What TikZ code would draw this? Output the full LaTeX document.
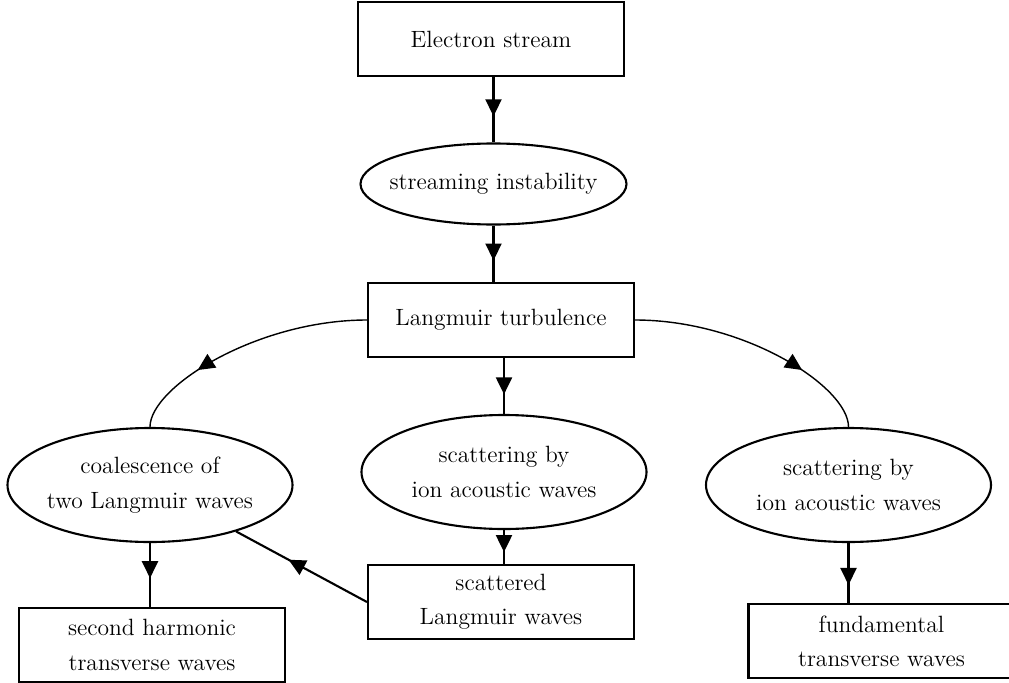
\documentclass[tikz,border=0pt]{standalone}
\usetikzlibrary{shapes.geometric,decorations.markings,arrows.meta}
\begin{document}
\begin{tikzpicture}[every node/.style={font=\fontsize{13.4}{19.5}\selectfont, align=center, line width=1.2pt},
  box/.style={draw, rectangle, minimum width=5.32cm, minimum height=1.48cm},
  oval/.style={draw, ellipse, inner xsep=-0.15cm, inner ysep=0pt, minimum width=5.7cm, minimum height=2.28cm},
  flow/.style={line width=1.2pt, postaction={decorate},
    decoration={markings, mark=at position #1 with {\arrow{Triangle[length=3.4mm,width=3.2mm]}}}},
  flow/.default=0.6,
  sidearc/.style={flow=0.7, line width=0.8pt}]
\useasboundingbox (0,0) rectangle (20.18,13.64);

\foreach \n/\x/\y/\t in {
estream/9.82/12.86/{Electron stream},
turb/10.02/7.24/{Langmuir turbulence},
scatlang/10.02/1.6/{scattered\\Langmuir waves},
second/3.04/0.74/{second harmonic\\transverse waves},
fund/17.63/0.82/{fundamental\\transverse waves}}
\node[box] (\n) at (\x,\y) {\t};

\node[oval, inner xsep=-0.3cm, minimum width=5.32cm, minimum height=1.62cm] (instab) at (9.87,9.96) {streaming instability};
\foreach \n/\x/\y/\t in {
coal/3.0/3.94/{coalescence of\\two Langmuir waves},
scatmid/10.08/4.2/{scattering by\\ion acoustic waves},
scatright/16.97/3.94/{scattering by\\ion acoustic waves}}
\node[oval] (\n) at (\x,\y) {\t};

\draw[flow] (instab.north |- estream.south) -- (instab);
\draw[flow=0.62] (instab.south) -- (instab.south |- turb.north);
\foreach \a/\b in {turb/scatmid, scatmid/scatlang}
\draw[flow=0.65] (scatmid.north |- \a.south) -- (scatmid.north |- \b.north);
\draw[flow=0.55] (coal.south) -- (coal.south |- second.north);
\draw[flow=0.7] (scatright.south) -- (scatright.south |- fund.north);
\draw[flow] (scatlang.west) -- (coal);
\draw[sidearc] (turb.west) to[out=180, in=90, out distance=2.2cm, in distance=0.8cm] (coal.north);
\draw[sidearc] (turb.east) to[out=0, in=90, out distance=2.2cm, in distance=0.8cm] (scatright.north);

\end{tikzpicture}
\end{document}
